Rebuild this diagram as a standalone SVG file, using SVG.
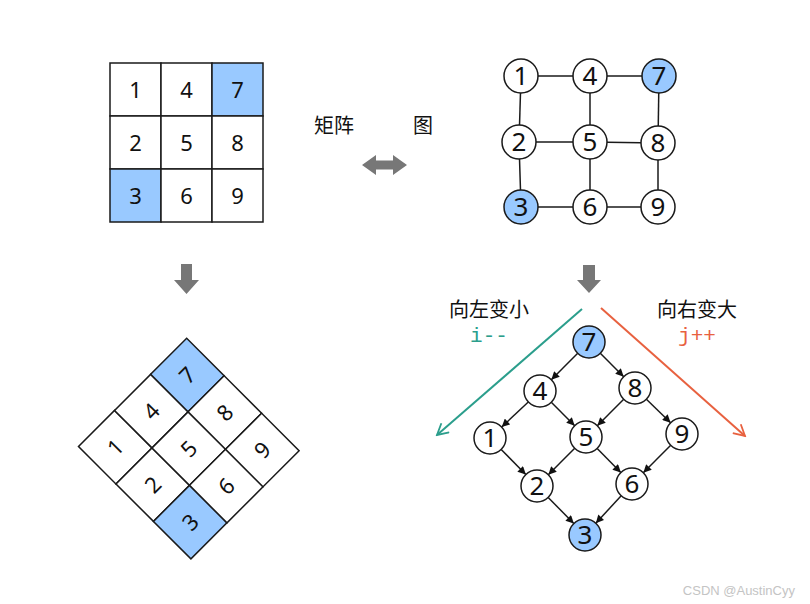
<svg xmlns="http://www.w3.org/2000/svg" width="810" height="604" viewBox="0 0 810 604">
<defs>
<style>
.cell{fill:#fff;stroke:#1a1a1a;stroke-width:1.5}
.d{font-family:"Noto Sans","DejaVu Sans",sans-serif;font-size:22px;text-anchor:middle;fill:#111}
.n{fill:#fff;stroke:#1a1a1a;stroke-width:1.5}
.nt{font-family:"Noto Sans","DejaVu Sans",sans-serif;font-size:26px;text-anchor:middle;fill:#111}
.e{stroke:#1a1a1a;stroke-width:1.5;fill:none}
.cjk{font-family:"Noto Sans CJK SC",sans-serif;font-size:20px;fill:#111}
.mono{font-family:"Liberation Mono","DejaVu Sans Mono",monospace;font-size:21px;text-anchor:middle}
.blk{fill:#777}
.hi{fill:#99c9ff}
</style>
<marker id="ah" markerUnits="userSpaceOnUse" markerWidth="9" markerHeight="8" viewBox="0 0 10 10" refX="10" refY="5" orient="auto">
<path d="M0,0 L10,5 L0,10 z" fill="#111"/>
</marker>
<marker id="ot" markerUnits="userSpaceOnUse" markerWidth="14" markerHeight="14" viewBox="0 0 14 14" refX="12" refY="7" orient="auto">
<path d="M1,1 L12,7 L1,13" fill="none" stroke="#2b9e8c" stroke-width="1.8"/>
</marker>
<marker id="oo" markerUnits="userSpaceOnUse" markerWidth="14" markerHeight="14" viewBox="0 0 14 14" refX="12" refY="7" orient="auto">
<path d="M1,1 L12,7 L1,13" fill="none" stroke="#e8613f" stroke-width="1.8"/>
</marker>
</defs>
<rect width="810" height="604" fill="#fff"/>

<g id="matrix">
<rect class="cell" x="110" y="63" width="51" height="53"/>
<rect class="cell" x="161" y="63" width="51" height="53"/>
<rect class="cell hi" x="212" y="63" width="51" height="53"/>
<rect class="cell" x="110" y="116" width="51" height="53"/>
<rect class="cell" x="161" y="116" width="51" height="53"/>
<rect class="cell" x="212" y="116" width="51" height="53"/>
<rect class="cell hi" x="110" y="169" width="51" height="53"/>
<rect class="cell" x="161" y="169" width="51" height="53"/>
<rect class="cell" x="212" y="169" width="51" height="53"/>
<text class="d" x="135.5" y="97.5">1</text>
<text class="d" x="186.5" y="97.5">4</text>
<text class="d" x="237.5" y="97.5">7</text>
<text class="d" x="135.5" y="150.5">2</text>
<text class="d" x="186.5" y="150.5">5</text>
<text class="d" x="237.5" y="150.5">8</text>
<text class="d" x="135.5" y="203.5">3</text>
<text class="d" x="186.5" y="203.5">6</text>
<text class="d" x="237.5" y="203.5">9</text>
</g>

<g id="matrix-rotated" transform="translate(188.8,448.6) rotate(-45) translate(-186.5,-142.5)">
<rect class="cell" x="110" y="63" width="51" height="53"/>
<rect class="cell" x="161" y="63" width="51" height="53"/>
<rect class="cell hi" x="212" y="63" width="51" height="53"/>
<rect class="cell" x="110" y="116" width="51" height="53"/>
<rect class="cell" x="161" y="116" width="51" height="53"/>
<rect class="cell" x="212" y="116" width="51" height="53"/>
<rect class="cell hi" x="110" y="169" width="51" height="53"/>
<rect class="cell" x="161" y="169" width="51" height="53"/>
<rect class="cell" x="212" y="169" width="51" height="53"/>
<text class="d" x="135.5" y="97.5">1</text>
<text class="d" x="186.5" y="97.5">4</text>
<text class="d" x="237.5" y="97.5">7</text>
<text class="d" x="135.5" y="150.5">2</text>
<text class="d" x="186.5" y="150.5">5</text>
<text class="d" x="237.5" y="150.5">8</text>
<text class="d" x="135.5" y="203.5">3</text>
<text class="d" x="186.5" y="203.5">6</text>
<text class="d" x="237.5" y="203.5">9</text>
</g>

<g id="labels">
<text class="cjk" x="314" y="133">矩阵</text>
<text class="cjk" x="413" y="133">图</text>
<polygon class="blk" points="362,165 376,155 376,160.5 393,160.5 393,155 407,165 393,175 393,169.5 376,169.5 376,175"/>
<polygon class="blk" points="181,264 192,264 192,280 199,280 186.5,294 174,280 181,280"/>
<polygon class="blk" points="583,265 595,265 595,280 601,280 589,293 577,280 583,280"/>
<text class="cjk" x="489" y="317" text-anchor="middle">向左变小</text>
<text class="mono" x="489" y="342" fill="#2b9e8c">i--</text>
<text class="cjk" x="697" y="317" text-anchor="middle">向右变大</text>
<text class="mono" x="697" y="342" fill="#e8613f">j++</text>
<text x="795" y="595" text-anchor="end" font-family="Liberation Sans,sans-serif" font-size="13" fill="#c4c4c4">CSDN @AustinCyy</text>
</g>

<g id="grid-edges">
<line class="e" x1="521" y1="76" x2="590" y2="76"/>
<line class="e" x1="590" y1="76" x2="659" y2="76"/>
<line class="e" x1="521" y1="76" x2="519" y2="142"/>
<line class="e" x1="590" y1="76" x2="590" y2="142"/>
<line class="e" x1="659" y1="76" x2="658" y2="143"/>
<line class="e" x1="519" y1="142" x2="590" y2="142"/>
<line class="e" x1="590" y1="142" x2="658" y2="143"/>
<line class="e" x1="519" y1="142" x2="521" y2="207"/>
<line class="e" x1="590" y1="142" x2="590" y2="207"/>
<line class="e" x1="658" y1="143" x2="658" y2="207"/>
<line class="e" x1="521" y1="207" x2="590" y2="207"/>
<line class="e" x1="590" y1="207" x2="658" y2="207"/>
</g>
<g id="g1"><circle class="n" cx="521" cy="76" r="17"/><text class="nt" x="521" y="85">1</text></g>
<g id="g4"><circle class="n" cx="590" cy="76" r="17"/><text class="nt" x="590" y="85">4</text></g>
<g id="g7"><circle class="n hi" cx="659" cy="76" r="17"/><text class="nt" x="659" y="85">7</text></g>
<g id="g2"><circle class="n" cx="519" cy="142" r="17"/><text class="nt" x="519" y="151">2</text></g>
<g id="g5"><circle class="n" cx="590" cy="142" r="17"/><text class="nt" x="590" y="151">5</text></g>
<g id="g8"><circle class="n" cx="658" cy="143" r="17"/><text class="nt" x="658" y="152">8</text></g>
<g id="g3"><circle class="n hi" cx="521" cy="207" r="17"/><text class="nt" x="521" y="216">3</text></g>
<g id="g6"><circle class="n" cx="590" cy="207" r="17"/><text class="nt" x="590" y="216">6</text></g>
<g id="g9"><circle class="n" cx="658" cy="207" r="17"/><text class="nt" x="658" y="216">9</text></g>

<g id="dir-arrows">
<line x1="582" y1="309" x2="437" y2="435" stroke="#2b9e8c" stroke-width="2" marker-end="url(#ot)"/>
<line x1="601" y1="308" x2="745" y2="436" stroke="#e8613f" stroke-width="2" marker-end="url(#oo)"/>
</g>

<g id="dag-edges">
<line class="e" x1="577.7" y1="353.3" x2="551.3" y2="379.7" marker-end="url(#ah)"/>
<line class="e" x1="600.3" y1="353.3" x2="623.7" y2="376.7" marker-end="url(#ah)"/>
<line class="e" x1="528.3" y1="402" x2="501.7" y2="427" marker-end="url(#ah)"/>
<line class="e" x1="551.3" y1="402.3" x2="574.7" y2="425.7" marker-end="url(#ah)"/>
<line class="e" x1="623.7" y1="399.3" x2="597.3" y2="425.7" marker-end="url(#ah)"/>
<line class="e" x1="646.4" y1="399.2" x2="670.6" y2="422.8" marker-end="url(#ah)"/>
<line class="e" x1="501.2" y1="449.4" x2="525.8" y2="474.6" marker-end="url(#ah)"/>
<line class="e" x1="574.7" y1="448.3" x2="548.3" y2="474.7" marker-end="url(#ah)"/>
<line class="e" x1="597.2" y1="448.4" x2="620.8" y2="472.6" marker-end="url(#ah)"/>
<line class="e" x1="670.7" y1="445.3" x2="643.3" y2="472.7" marker-end="url(#ah)"/>
<line class="e" x1="548.2" y1="497.4" x2="573.8" y2="523.6" marker-end="url(#ah)"/>
<line class="e" x1="621.2" y1="495.8" x2="595.8" y2="523.2" marker-end="url(#ah)"/>
</g>
<g id="d7"><circle class="n hi" cx="589" cy="342" r="16"/><text class="nt" x="589" y="351">7</text></g>
<g id="d4"><circle class="n" cx="540" cy="391" r="16"/><text class="nt" x="540" y="400">4</text></g>
<g id="d8"><circle class="n" cx="635" cy="388" r="16"/><text class="nt" x="635" y="397">8</text></g>
<g id="d1"><circle class="n" cx="490" cy="438" r="16"/><text class="nt" x="490" y="447">1</text></g>
<g id="d5"><circle class="n" cx="586" cy="437" r="16"/><text class="nt" x="586" y="446">5</text></g>
<g id="d9"><circle class="n" cx="682" cy="434" r="16"/><text class="nt" x="682" y="443">9</text></g>
<g id="d2"><circle class="n" cx="537" cy="486" r="16"/><text class="nt" x="537" y="495">2</text></g>
<g id="d6"><circle class="n" cx="632" cy="484" r="16"/><text class="nt" x="632" y="493">6</text></g>
<g id="d3"><circle class="n hi" cx="585" cy="535" r="16"/><text class="nt" x="585" y="544">3</text></g>
</svg>
